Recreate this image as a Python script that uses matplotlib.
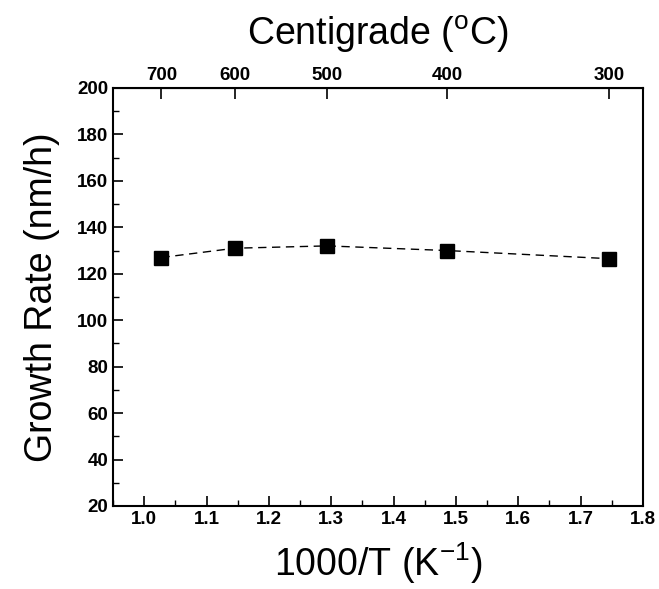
import numpy as np
import matplotlib.pyplot as plt
from matplotlib.ticker import MultipleLocator

plt.rcParams['font.family'] = ['Liberation Sans', 'DejaVu Sans']

temp_c = [700, 600, 500, 400, 300]
growth_rate = [127, 131, 132, 130, 126.5]
inv_t = [1000.0 / (t + 273) for t in temp_c]

fig = plt.figure(figsize=(6.59, 5.89), dpi=100)
ax = fig.add_axes([0.1715, 0.141, 0.804, 0.7096])

ax.plot(inv_t, growth_rate, color='black', linestyle=(0, (6, 4)), linewidth=1.0,
        marker='s', markersize=10.5, markerfacecolor='black', markeredgecolor='black')

ax.set_xlim(0.95, 1.8)
ax.set_ylim(20, 200)
ax.xaxis.set_major_locator(MultipleLocator(0.1))
ax.xaxis.set_minor_locator(MultipleLocator(0.05))
ax.yaxis.set_major_locator(MultipleLocator(20))
ax.yaxis.set_minor_locator(MultipleLocator(10))
ax.tick_params(which='both', direction='in', top=False, right=False, labelsize=13.5)
ax.tick_params(which='major', length=7, width=1.2)
ax.tick_params(which='minor', length=4, width=1.0)
for lab in ax.get_xticklabels() + ax.get_yticklabels():
    lab.set_fontweight('bold')
for s in ax.spines.values():
    s.set_linewidth(1.5)

ax.set_xlabel('1000/T (K$^{\\mathregular{-1}}$)', fontsize=27, labelpad=9)
ax.set_ylabel('Growth Rate (nm/h)', fontsize=27, labelpad=12)

def to_c(x):
    x = np.asarray(x, dtype=float)
    with np.errstate(divide='ignore'):
        return 1000.0 / x - 273

def to_inv(c):
    c = np.asarray(c, dtype=float)
    with np.errstate(divide='ignore'):
        return 1000.0 / (c + 273)

top = ax.secondary_xaxis('top', functions=(to_c, to_inv))
top.set_xticks(temp_c)
top.set_xticklabels([str(t) for t in temp_c], fontweight='bold')
top.tick_params(direction='in', length=8, width=1.2, labelsize=13.5, pad=3)
top.minorticks_off()
top.set_xlabel('Centigrade ($^{\\mathregular{o}}$C)', fontsize=27, labelpad=16)

fig.savefig('out.png', dpi=100)
